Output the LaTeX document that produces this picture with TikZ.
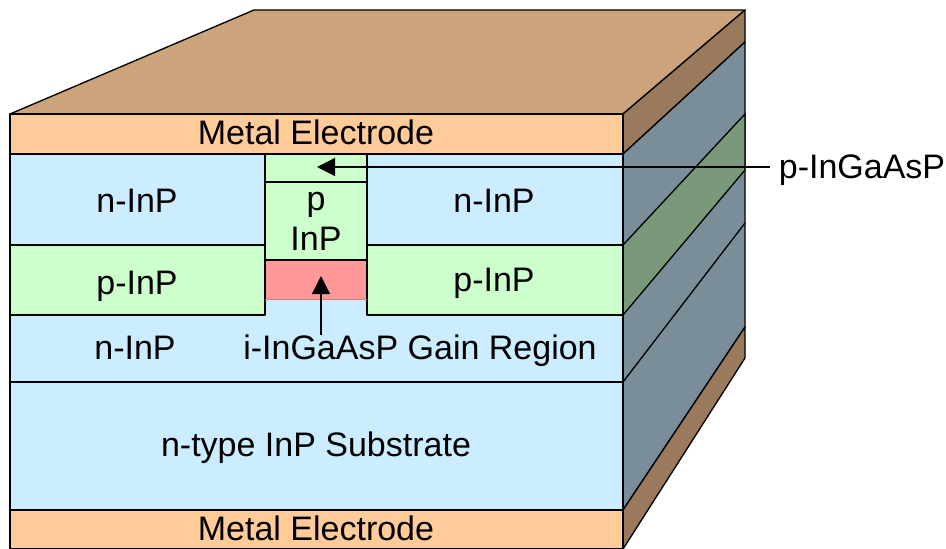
\documentclass[tikz,border=0pt]{standalone}
\usepackage{fontspec}
\setmainfont{Liberation Sans}
\usetikzlibrary{arrows.meta}
\definecolor{metal}{HTML}{FFCC99}
\definecolor{metaltop}{HTML}{CCA37A}
\definecolor{metalside}{HTML}{997A5C}
\definecolor{ninp}{HTML}{CCECFF}
\definecolor{ninpside}{HTML}{7A8E99}
\definecolor{pinp}{HTML}{CCFFCC}
\definecolor{pinpside}{HTML}{7A997A}
\definecolor{gain}{HTML}{FF9999}
\tikzset{
  layer/.style={draw=black,line width=1pt,line join=round},
  label/.style={font=\fontsize{25.5}{30}\selectfont,inner sep=0pt,align=center},
  pointer/.style={-{Triangle[length=13.5pt,width=13.5pt]},line width=0.9pt}
}
\begin{document}
\begin{tikzpicture}[x=0.75pt,y=-0.75pt]
  \useasboundingbox (0,0) rectangle (946,549);
  % Top and side faces
  \draw[layer,fill=metaltop] (10,114) -- (254,10) -- (745,10) -- (623,114) -- cycle;
  \draw[layer,fill=metalside] (623,114) -- (745,10) -- (745,42) -- (623,154) -- cycle;
  \draw[layer,fill=ninpside] (623,154) -- (745,42) -- (745,327) -- (623,510) -- cycle;
  \draw[layer,fill=pinpside] (623,245) -- (745,114) -- (745,170) -- (623,315) -- cycle;
  \draw[layer] (623,382) -- (745,223);
  \draw[layer,fill=metalside] (623,510) -- (745,327) -- (745,358) -- (623,549) -- cycle;

  % Front layers
  \draw[layer,fill=metal] (10,114) rectangle (623,154);
  \draw[layer,fill=ninp] (10,382) rectangle (623,510);
  \draw[layer,fill=metal] (10,510) rectangle (623,549);
  \fill[ninp] (10,154) rectangle (623,382);
  \draw[layer] (10,154) -- (10,382) -- (623,382) -- (623,154);

  % Left and right blocks
  \draw[layer,fill=ninp] (10,154) rectangle (265,245);
  \draw[layer,fill=pinp] (10,245) rectangle (265,315);
  \draw[layer,fill=ninp] (367,154) rectangle (623,245);
  \draw[layer,fill=pinp] (367,245) rectangle (623,315);

  % Ridge
  \draw[layer,fill=pinp] (265,154) rectangle (367,182);
  \draw[layer,fill=pinp] (265,182) rectangle (367,260);
  \fill[gain] (265,260) rectangle (367,299);
  \draw[layer] (265,299) -- (265,260) -- (367,260) -- (367,299);
  \draw[gain!80!black,line width=0.5pt] (265,299) -- (367,299);

  % Labels
  \node[label] (topmetal) at (316,132) {Metal Electrode};
  \node[label] (botmetal) at (316,528) {Metal Electrode};
  \node[label] (nleft) at (137,201) {n-InP};
  \node[label] (nright) at (494,201) {n-InP};
  \node[label] (pleft) at (137,286) {p-InP};
  \node[label] (pright) at (494,283) {p-InP};
  \node[label] (nlow) at (135,348) {n-InP};
  \node[label] (ridge) at (316,221) {p\\InP};
  \node[label] (gainlabel) at (420,351) {i-InGaAsP Gain Region};
  \node[label] (substrate) at (316,448) {n-type InP Substrate};
  \node[label] (caplabel) at (862,170) {p-InGaAsP};

  % Arrows
  \coordinate (captip) at (317,167);
  \coordinate (gaintip) at (321,276);
  \draw[pointer,shorten <=6.5pt] (caplabel.west |- captip) -- (captip);
  \draw[pointer] (gainlabel.north -| gaintip) -- (gaintip);
\end{tikzpicture}
\end{document}
